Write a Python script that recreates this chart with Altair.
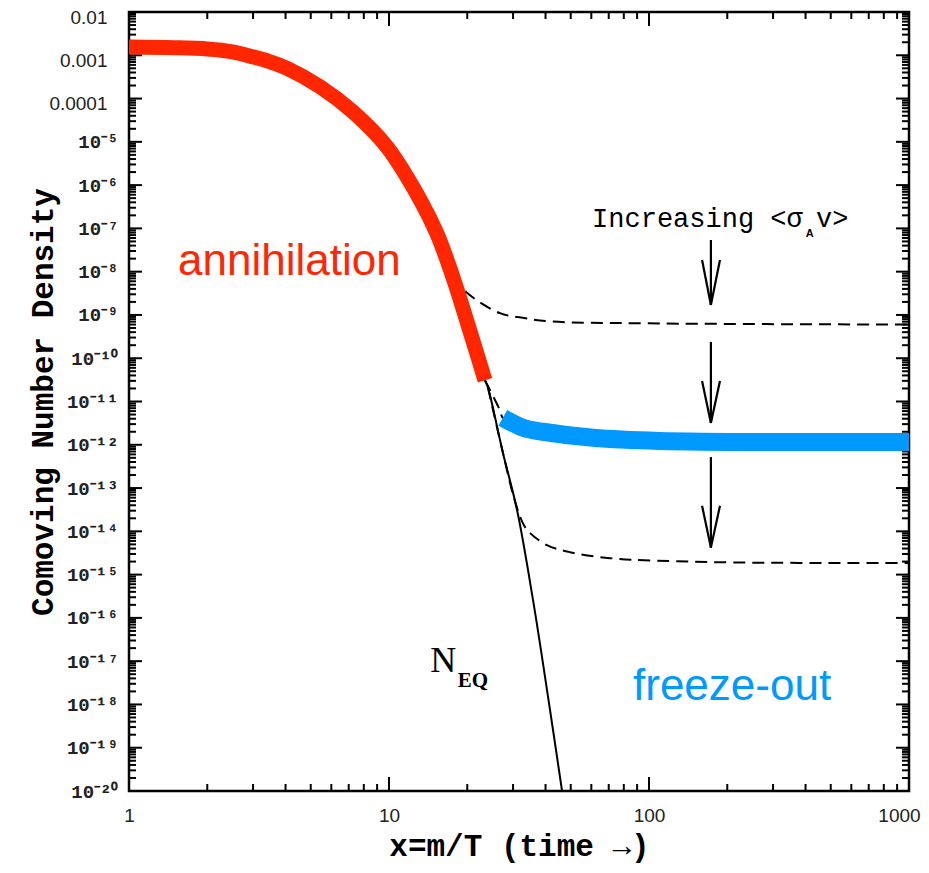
import altair as alt
import pandas as pd

# ---------------- data ----------------
red_x = [1.0, 1.5, 2.0, 2.5, 3.0, 3.5, 4.05, 5.43, 7.27, 9.82, 13.2, 15.3, 17.6, 21.0, 23.4]
red_y = [1.55e-3, 1.5e-3, 1.4e-3, 1.2e-3, 9.2e-4, 7.0e-4, 5.0e-4, 1.87e-4, 4.9e-5, 7.6e-6,
         4.5e-7, 7.5e-8, 7.6e-9, 2.6e-10, 3.1e-11]

eq_x = red_x + [24.04, 27.45, 31.08, 35.8, 40.9, 46.3]
eq_y = red_y + [2.06e-11, 6.4e-13, 3.1e-14, 2.6e-16, 1.5e-18, 1.0e-20]

dash_hi_x = [17.6, 20.0, 26.7, 33.0, 41.6, 98.0, 1000.0]
dash_hi_y = [7.6e-9, 3.2e-9, 1.1e-9, 8.5e-10, 7.1e-10, 6.4e-10, 6.0e-10]

dash_mid_x = [23.4, 26.7, 27.4, 33.0, 39.1, 60.9, 110.0, 1000.0]
dash_mid_y = [3.1e-11, 6.3e-12, 4.2e-12, 2.45e-12, 2.0e-12, 1.45e-12, 1.23e-12, 1.16e-12]

dash_lo_x = [24.04, 27.45, 30.5, 33.0, 34.9, 40.5, 49.7, 70.8, 172.0, 1000.0]
dash_lo_y = [2.06e-11, 6.4e-13, 5.0e-14, 1.4e-14, 9.1e-15, 4.8e-15, 3.3e-15, 2.4e-15, 1.95e-15, 1.85e-15]

blue_x = [27.4, 33.0, 39.1, 60.9, 110.0, 1000.0]
blue_y = [4.2e-12, 2.45e-12, 2.0e-12, 1.45e-12, 1.23e-12, 1.16e-12]

# arrows: shaft top, tip, barb start (x of shaft and barbs)
arrow_x = 173.0
barb_left_x = 160.0
barb_right_x = 187.5
arrow_top = [5.4e-8, 2.37e-10, 5.2e-13]
arrow_tip = [1.7e-9, 3.2e-12, 4.2e-15]
arrow_barb = [1.86e-8, 2.98e-11, 3.9e-14]

# ticks and labels
x_ticks = [1, 10, 100, 1000]
x_tick_labels = ["1", "10", "100", "1000"]
x_minor = [k * 10 ** d for d in range(0, 3) for k in range(2, 10)]
SUP = str.maketrans("0123456789-", "⁰¹²³⁴⁵⁶⁷⁸⁹⁻")
y_ticks = [10.0 ** -n for n in range(2, 21)]
y_tick_labels = ["0.01", "0.001", "0.0001"] + ["10" + f"-{n}".translate(SUP) for n in range(5, 21)]
y_minor = [k * 10.0 ** -n for n in range(3, 21) for k in range(2, 10)]

# annotations
ann_text = ["annihilation", "freeze-out"]
ann_x = [1.543, 86.8]
ann_y = [8.4e-9, 1.26e-18]
ann_color = ["#FF2600", "#0099FF"]

# ---------------- chart ----------------
W, H = 780, 779
xs = alt.Scale(type="log", domain=[1, 1000], nice=False)
ys = alt.Scale(type="log", domain=[1e-20, 1e-2], nice=False)

x_expr = "[" + ",".join(f"'{s}'" for s in x_tick_labels) + "][round(log(datum.value)/LN10)]"
y_expr = "[" + ",".join(f"'{s}'" for s in y_tick_labels) + "][round(-log(datum.value)/LN10) - 2]"
is_sans = "datum.value > 0.00005"

xaxis = alt.Axis(values=x_ticks, labelExpr=x_expr, ticks=False, tickSize=0, domain=False, grid=False,
                 labelFont="Liberation Sans", labelFontSize=19, labelColor="#222222",
                 labelPadding=15, labelFlush=False, labelOverlap=False,
                 labelOffset={"condition": {"test": "datum.value > 500", "value": -10}, "value": 0},
                 title="x=m/T (time →)", titleFont="Liberation Mono", titleFontSize=31,
                 titleFontWeight="bold", titleColor="black", titleX=W / 2, titleY=64,
                 titleAlign="center", titleBaseline="alphabetic")

yaxis = alt.Axis(values=y_ticks, labelExpr=y_expr, ticks=False, tickSize=0, domain=False, grid=False,
                 labelFont={"condition": {"test": is_sans, "value": "Liberation Sans"}, "value": "Liberation Mono"},
                 labelFontWeight={"condition": {"test": is_sans, "value": "normal"}, "value": "bold"},
                 labelFontSize={"condition": {"test": is_sans, "value": 19}, "value": 19},
                 labelPadding={"condition": {"test": is_sans, "value": 22}, "value": 11},
                 labelOffset={"condition": {"test": is_sans, "value": 5}, "value": 0},
                 labelColor="#222222", labelBaseline="middle", labelFlush=False, labelOverlap=False,
                 title="Comoving Number Density", titleFont="Liberation Mono", titleFontSize=31,
                 titleFontWeight="bold", titleColor="black", titleX=-77, titleY=H / 2,
                 titleAngle=270, titleAlign="center", titleBaseline="alphabetic")


def X(f="x"):
    return alt.X(f"{f}:Q", scale=xs, axis=xaxis)


def Y(f="y"):
    return alt.Y(f"{f}:Q", scale=ys, axis=yaxis)


def line(xv, yv, **kw):
    df = pd.DataFrame({"x": xv, "y": yv, "i": range(len(xv))})
    return alt.Chart(df).mark_line(interpolate="catmull-rom", clip=True, strokeCap="butt", **kw).encode(
        x=X(), y=Y(), order="i:Q")


layers = []
# ticks (inward)
ymaj = pd.DataFrame({"y": y_ticks})
ymin = pd.DataFrame({"y": y_minor})
xmaj = pd.DataFrame({"x": x_ticks})
xmin = pd.DataFrame({"x": x_minor})
for df, a, b in [(ymaj, 0, 13), (ymin, 0, 7), (ymaj, W, W - 13), (ymin, W, W - 7)]:
    layers.append(alt.Chart(df).mark_rule(color="black", strokeWidth=2).encode(
        y=Y(), x=alt.value(a), x2=alt.value(b)))
for df, a, b in [(xmaj, H, H - 14), (xmin, H, H - 7), (xmaj, 0, 14), (xmin, 0, 7)]:
    layers.append(alt.Chart(df).mark_rule(color="black", strokeWidth=2).encode(
        x=X(), y=alt.value(a), y2=alt.value(b)))

layers.append(line(eq_x, eq_y, color="black", strokeWidth=2))
for dx, dy in [(dash_hi_x, dash_hi_y), (dash_mid_x, dash_mid_y), (dash_lo_x, dash_lo_y)]:
    layers.append(line(dx, dy, color="black", strokeWidth=2, strokeDash=[12, 7]))
layers.append(line(red_x, red_y, color="#FF2600", strokeWidth=15))
layers.append(line(blue_x, blue_y, color="#0099FF", strokeWidth=18))

# arrows
arr = []
for t, tip, b in zip(arrow_top, arrow_tip, arrow_barb):
    arr.append({"x": arrow_x, "y": t, "x2": arrow_x, "y2": tip})
    arr.append({"x": barb_left_x, "y": b, "x2": arrow_x, "y2": tip})
    arr.append({"x": barb_right_x, "y": b, "x2": arrow_x, "y2": tip})
layers.append(alt.Chart(pd.DataFrame(arr)).mark_rule(color="black", strokeWidth=2.2).encode(
    x=X(), y=Y(), x2="x2:Q", y2="y2:Q"))

# annotations
ann = pd.DataFrame({"x": ann_x, "y": ann_y, "t": ann_text, "c": ann_color})
layers.append(alt.Chart(ann).mark_text(align="left", baseline="alphabetic", font="Liberation Sans",
                                       fontSize=44).encode(
    x=X(), y=Y(), text="t:N", color=alt.Color("c:N", scale=None)))


def label(t, xv, yv, font, size, weight="normal"):
    df = pd.DataFrame({"x": [xv], "y": [yv], "t": [t]})
    return alt.Chart(df).mark_text(align="left", baseline="alphabetic", font=font, fontSize=size,
                                   fontWeight=weight, color="black").encode(x=X(), y=Y(), text="t:N")


layers.append(label("N", 14.4, 5.6e-18, "Liberation Serif", 36))
layers.append(label("EQ", 18.4, 2.5e-18, "Liberation Serif", 21, "bold"))
layers.append(label("Increasing <σ", 60.4, 1.08e-7, "Liberation Mono", 27))
layers.append(label("A", 401.0, 6.3e-8, "Liberation Sans", 11, "bold"))
layers.append(label("v>", 439.0, 1.08e-7, "Liberation Mono", 27))

chart = alt.layer(*layers).properties(
    width=W, height=H, autosize="none",
    padding={"left": 121, "top": 4, "right": 12, "bottom": 72},
).configure_view(stroke="black", strokeWidth=2.5)

chart.save("out.html", embed_options={"renderer": "svg", "actions": False})
